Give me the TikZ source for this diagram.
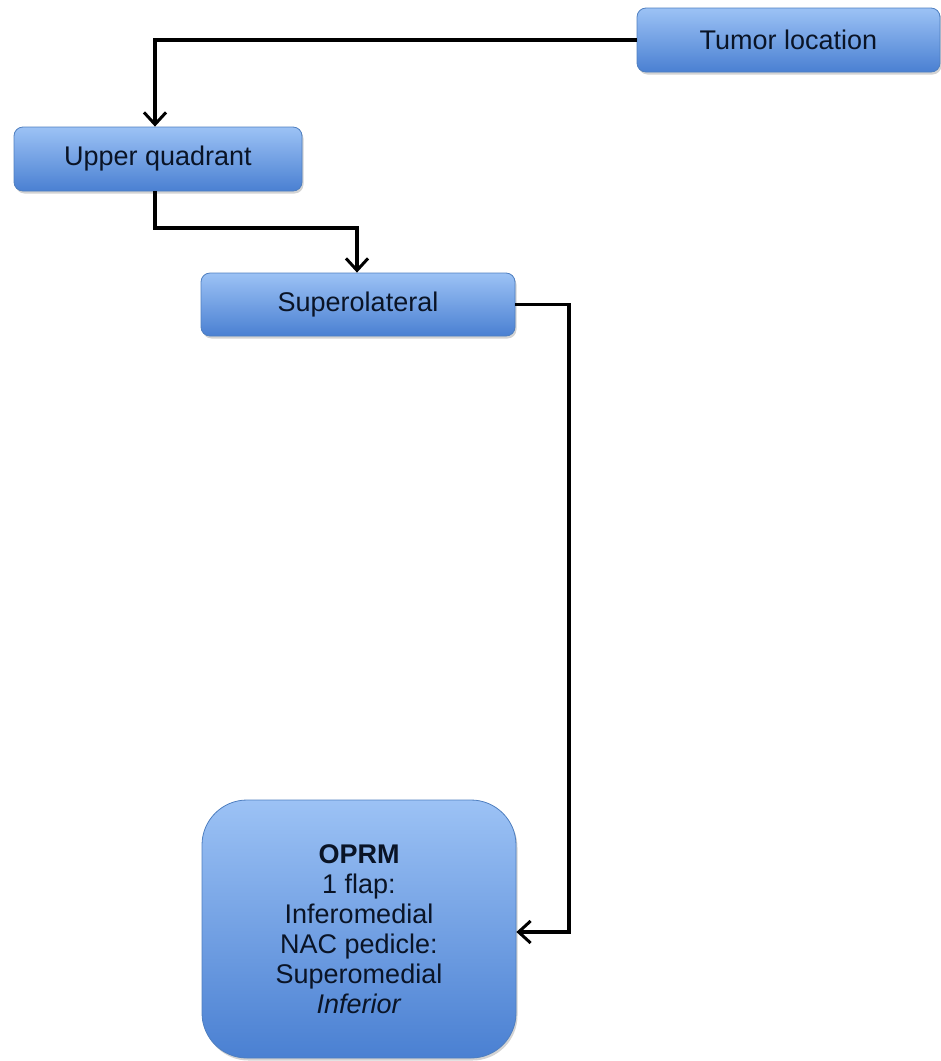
\documentclass[tikz,border=0pt]{standalone}
\usepackage{fontspec}
\setmainfont{Liberation Sans}
\usetikzlibrary{arrows.meta,shadows}
\definecolor{boxtop}{HTML}{9CC2F5}
\definecolor{boxbot}{HTML}{4A80D2}
\definecolor{boxline}{HTML}{4F7FC0}
\definecolor{txt}{HTML}{0A1426}
\tikzset{
  box/.style={draw=boxline, line width=0.8pt, rounded corners=9pt,
    top color=boxtop, bottom color=boxbot, text=txt,
    font=\fontsize{27}{30}\selectfont, inner sep=0pt,
    drop shadow={shadow xshift=1.5pt, shadow yshift=-2.5pt, opacity=0.35}},
  conn/.style={draw=black, line width=3.2pt, -{Straight Barb[length=12pt,width=22pt,line width=3pt]}}
}
\begin{document}
\begin{tikzpicture}[x=1pt,y=1pt]
\useasboundingbox (0,0) rectangle (941,-1061);
\node[box, minimum width=303pt, minimum height=64pt] (tumor) at (788.5,-40) {Tumor location};
\node[box, minimum width=288pt, minimum height=64pt] (upper) at (158,-159) {Upper quadrant};
\node[box, minimum width=314pt, minimum height=63pt] (supero) at (358,-304.5) {Superolateral};
\node[box, rounded corners=45pt, minimum width=314pt, minimum height=258pt, align=center,
  font=\fontsize{27}{30}\selectfont] (oprm) at (359,-929)
  {\textbf{OPRM}\\1 flap:\\Inferomedial\\NAC pedicle:\\Superomedial\\\textit{Inferior}};
\coordinate (c1) at (155,-40);
\coordinate (c2) at (155,-228);
\coordinate (c3) at (357,-228);
\coordinate (c4) at (569,-304.5);
\coordinate (c5) at (569,-932);
\draw[conn] (tumor.west) -- (c1) -- (upper.north -| c1);
\draw[conn] (upper.south -| c2) -- (c2) -- (c3) -- (supero.north -| c3);
\draw[conn] (supero.east) -- (c4) -- (c5) -- (oprm.east |- c5);
\end{tikzpicture}
\end{document}
